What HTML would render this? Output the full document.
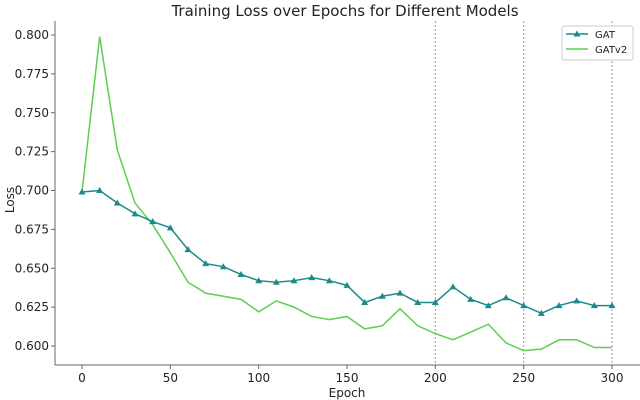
<!DOCTYPE html>
<html><head><meta charset="utf-8"><style>
body{margin:0;background:#fff;}
svg{display:block;font-family:"DejaVu Sans","Liberation Sans",sans-serif;}
</style></head><body>
<svg id="c" width="640" height="400">
<text x="345" y="16" text-anchor="middle" font-size="15" fill="#222">Training Loss over Epochs for Different Models</text>
<g id="grid"></g>
<g id="axes"></g>
<g id="series"></g>
<text x="347" y="397" text-anchor="middle" font-size="12" fill="#222">Epoch</text>
<text transform="translate(14,200) rotate(-90)" text-anchor="middle" font-size="12" fill="#222">Loss</text>
<g>
<rect x="562" y="26" width="71" height="34" fill="#fff" stroke="#ccc" rx="2"/>
<line x1="566" y1="34" x2="588" y2="34" stroke="#1a8a8a" stroke-width="1.5"/>
<path d="M577,30.5 L580.5,36.5 L573.5,36.5Z" fill="#1a8a8a"/>
<text x="595" y="38" font-size="10" fill="#222">GAT</text>
<line x1="566" y1="49" x2="588" y2="49" stroke="#5ccf50" stroke-width="1.5"/>
<text x="595" y="53" font-size="10" fill="#222">GATv2</text>
</g>
</svg>
<script>
const epochs=[0,10,20,30,40,50,60,70,80,90,100,110,120,130,140,150,160,170,180,190,200,210,220,230,240,250,260,270,280,290,300];
const gat=[0.699,0.700,0.692,0.685,0.680,0.676,0.662,0.653,0.651,0.646,0.642,0.641,0.642,0.644,0.642,0.639,0.628,0.632,0.634,0.628,0.628,0.638,0.630,0.626,0.631,0.626,0.621,0.626,0.629,0.626,0.626];
const gatv2=[0.699,0.799,0.726,0.692,0.678,0.660,0.641,0.634,0.632,0.630,0.622,0.629,0.625,0.619,0.617,0.619,0.611,0.613,0.624,0.613,0.608,0.604,0.609,0.614,0.602,0.597,0.598,0.604,0.604,0.599,0.599];
const xTicks=[0,50,100,150,200,250,300];
const yTicks=[0.600,0.625,0.650,0.675,0.700,0.725,0.750,0.775,0.800];
const vLines=[200,250,300];
const X=v=>82+v*(612-82)/300;
const Y=v=>346-(v-0.6)*(346-35)/0.2;
const NS="http://www.w3.org/2000/svg";
function mk(t,p,a){const e=document.createElementNS(NS,t);for(const k in a)e.setAttribute(k,a[k]);p.appendChild(e);return e;}
const grid=document.getElementById('grid'),axes=document.getElementById('axes'),ser=document.getElementById('series');
vLines.forEach(v=>{const l=mk('line',grid,{x1:X(v),x2:X(v),y1:21,y2:365,stroke:'#999','stroke-dasharray':'2,2','stroke-width':1});

});
const la=mk('line',axes,{x1:55,x2:55,y1:21,y2:365,stroke:'#666','stroke-width':1});


const lb=mk('line',axes,{x1:55,x2:640,y1:365,y2:365,stroke:'#666','stroke-width':1});


xTicks.forEach(v=>{mk('line',axes,{x1:X(v),x2:X(v),y1:365,y2:369,stroke:'#666'});
const t=mk('text',axes,{x:X(v),y:382,'text-anchor':'middle','font-size':12,fill:'#222'});t.textContent=v;

});
yTicks.forEach(v=>{mk('line',axes,{x1:51,x2:55,y1:Y(v),y2:Y(v),stroke:'#666'});
const t=mk('text',axes,{x:49,y:Y(v)+4,'text-anchor':'end','font-size':12,fill:'#222'});t.textContent=v.toFixed(3);

});
const p2=mk('polyline',ser,{points:epochs.map((e,i)=>X(e)+','+Y(gatv2[i])).join(' '),fill:'none',stroke:'#5ccf50','stroke-width':1.5});


const p1=mk('polyline',ser,{points:epochs.map((e,i)=>X(e)+','+Y(gat[i])).join(' '),fill:'none',stroke:'#1a8a8a','stroke-width':1.5});


epochs.forEach((e,i)=>{const x=X(e),y=Y(gat[i]);
const m=mk('path',ser,{d:`M${x},${y-3.5} L${x+3.5},${y+2.5} L${x-3.5},${y+2.5}Z`,fill:'#1a8a8a'});

});
</script>
</body></html>
